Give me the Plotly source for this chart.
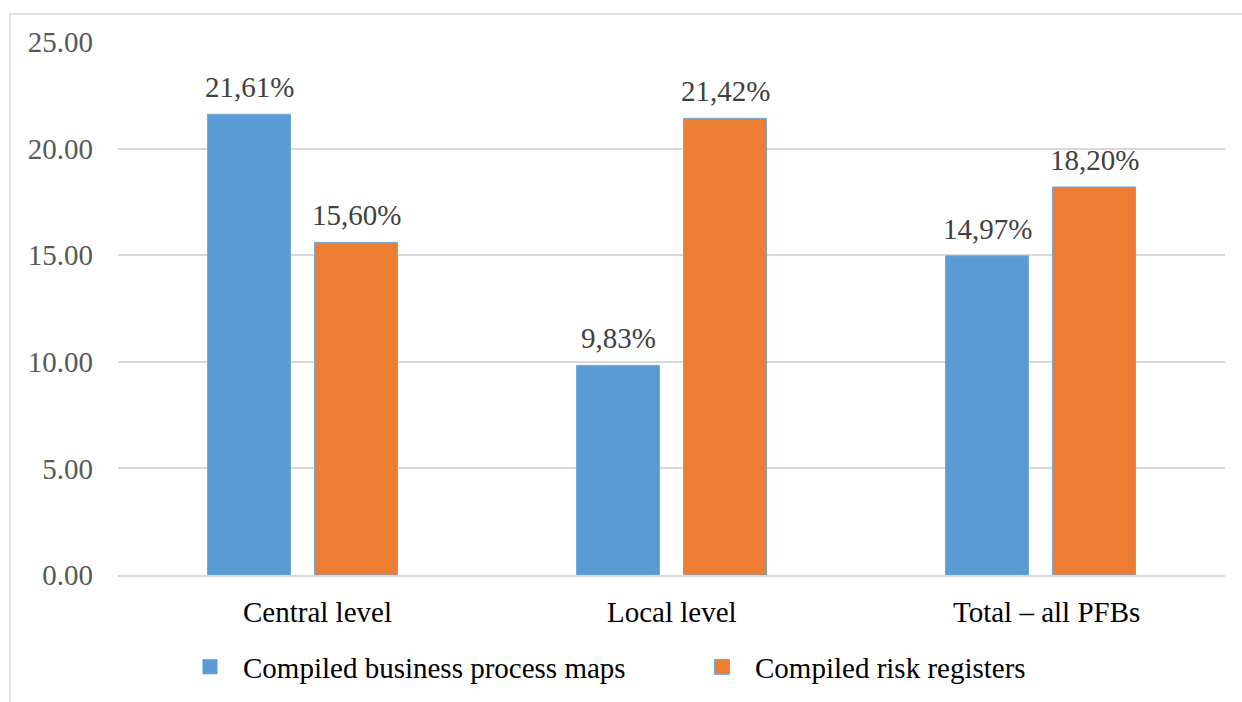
import plotly.graph_objects as go

categories = ["Central level", "Local level", "Total – all PFBs"]
series_names = ["Compiled business process maps", "Compiled risk registers"]
business_maps = [21.61, 9.83, 14.97]
risk_registers = [15.60, 21.42, 18.20]
y_ticks = [0, 5, 10, 15, 20, 25]

colors = ["#5B9BD5", "#ED7D31"]
serif = "Liberation Serif, Times New Roman, serif"
FS = 29
label_nudge = [15, 0, 6]  # horizontal nudge of category labels (px)

fig = go.Figure()
all_series = [business_maps, risk_registers]
for name, vals, col in zip(series_names, all_series, colors):
    fig.add_trace(go.Bar(
        x=categories, y=vals, name=name,
        marker=dict(color=col, line=dict(color="#6FA8DC", width=1)),
        showlegend=False,
    ))
    # legend stand-in with square symbol
    fig.add_trace(go.Scatter(
        x=[None], y=[None], mode="markers", name=name,
        marker=dict(symbol="square", size=15, color=col,
                    line=dict(color="#6FA8DC", width=1 if col == colors[1] else 0)),
        showlegend=True,
    ))

annotations = []
for si, vals in enumerate(all_series):
    shift = -53.5 if si == 0 else 53.5
    for cat, v in zip(categories, vals):
        annotations.append(dict(
            x=cat, y=v, xref="x", yref="y",
            text=f"{v:.2f}".replace(".", ",") + "%",
            showarrow=False, xshift=shift, yshift=9, yanchor="bottom",
            font=dict(family=serif, size=FS, color="#404040"),
        ))
for cat, nudge in zip(categories, label_nudge):
    annotations.append(dict(
        x=cat, y=0, xref="x", yref="y", text=cat, showarrow=False,
        xshift=nudge, yshift=-37, yanchor="middle",
        font=dict(family=serif, size=FS, color="#000000"),
    ))

L, R, T, B = 118, 17, 42, 127
W, H = 1242, 702
pw, ph = W - L - R, H - T - B

def px_x(p):
    return (p - L) / pw

def px_y(p):
    return (H - B - p) / ph

shapes = [
    dict(type="line", xref="paper", yref="paper",
         x0=px_x(10), x1=px_x(1250), y0=px_y(14), y1=px_y(14),
         line=dict(color="#D9D9D9", width=1.5)),
    dict(type="line", xref="paper", yref="paper",
         x0=px_x(10), x1=px_x(10), y0=px_y(14), y1=px_y(720),
         line=dict(color="#D9D9D9", width=1.5)),
]

fig.update_layout(
    width=W, height=H,
    margin=dict(l=L, r=R, t=T, b=B, autoexpand=False),
    paper_bgcolor="white", plot_bgcolor="white",
    barmode="group", bargap=0.42, bargroupgap=0.224,
    font=dict(family=serif, size=FS, color="#000000"),
    annotations=annotations,
    shapes=shapes,
    showlegend=True,
    legend=dict(orientation="h", x=px_x(177), xanchor="left",
                y=px_y(667), yanchor="middle",
                font=dict(family=serif, size=FS, color="#000000"),
                itemwidth=56, entrywidth=441, entrywidthmode="pixels",
                itemsizing="trace", bgcolor="rgba(0,0,0,0)"),
    xaxis=dict(
        showgrid=False, showline=True, linecolor="#D9D9D9", linewidth=1.5,
        ticks="", showticklabels=False,
    ),
    yaxis=dict(
        range=[0, 25], tickvals=y_ticks, tickformat=".2f",
        showgrid=True, gridcolor="#D9D9D9", gridwidth=1.5,
        zeroline=False, showline=False, ticks="",
        tickfont=dict(family=serif, size=FS, color="#595959"),
        ticklabelstandoff=24,
    ),
)

fig.write_html("out.html")
